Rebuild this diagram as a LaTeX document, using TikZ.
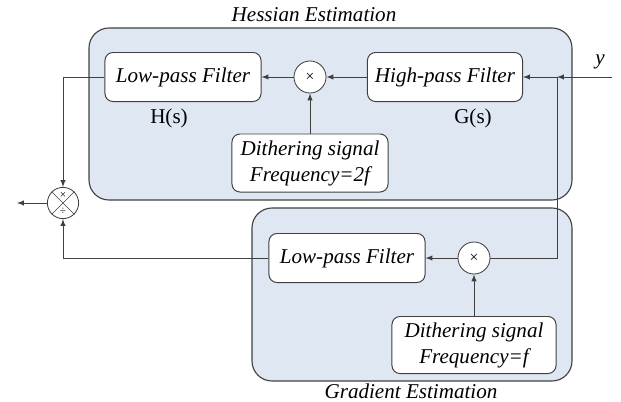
\documentclass[tikz,border=0pt]{standalone}
\usepackage{fontspec}
\setmainfont{Liberation Serif}
\usepackage{tikz}
\usetikzlibrary{arrows,positioning,calc}
\definecolor{panelblue}{HTML}{DFE8F2}
\definecolor{linegray}{HTML}{404040}

\tikzset{
  panel/.style={draw=linegray, fill=panelblue, line width=0.8pt, rounded corners=0.5cm},
  block/.style={draw=linegray, fill=white, line width=0.7pt, rounded corners=0.2cm,
    font=\fontsize{15}{18.5}\selectfont\itshape, align=center, inner sep=0pt},
  mult/.style={draw=linegray, fill=white, circle, line width=0.6pt, minimum size=0.8cm, inner sep=0pt},
  wire/.style={draw=linegray, line width=0.7pt},
  sig/.style={wire, -latex},
}

\begin{document}
\begin{tikzpicture}[x=0.025cm, y=-0.025cm, font=\fontsize{15}{17}\selectfont]
\useasboundingbox (0,0) rectangle (621,402);
% estimation panels
\draw[panel] (89,28) rectangle (572,200);
\draw[panel] (252,208) rectangle (572,381);
\node at (314,15) {\itshape Hessian Estimation};
\node at (411,391) {\itshape Gradient Estimation};

% Hessian loop
\node[block, minimum width=3.9cm, minimum height=1.225cm] (lpf1) at (183,77) {Low-pass Filter};
\node[mult] (mul1) at (310,77) {\fontsize{11}{11}\selectfont ×};
\node[block, minimum width=3.875cm, minimum height=1.225cm] (hpf) at (445,77) {High-pass Filter};
\node[block, minimum width=3.9cm, minimum height=1.45cm] (dith1) at (310,163) {Dithering signal\\Frequency=2\textit{f}};
\node (hs) at (169,118) {H(s)};
\node (gs) at (473,118) {G(s)};

% gradient loop
\node[block, minimum width=3.9cm, minimum height=1.225cm] (lpf2) at (347,258) {Low-pass Filter};
\node[mult] (mul2) at (474,258) {\fontsize{11}{11}\selectfont ×};
\node[block, minimum width=4.1cm, minimum height=1.425cm] (dith2) at (474,345) {Dithering signal\\Frequency=\textit{f}};

% divider
\node[mult, minimum size=0.78cm] (div) at (63,203) {};
\draw[linegray, line width=0.5pt] (div.45) -- (div.225) (div.135) -- (div.-45);
\node[font=\fontsize{8}{8}\selectfont, inner sep=0pt] at ($(div.center)+(0,-8)$) {×};
\node[font=\fontsize{8}{8}\selectfont, inner sep=0pt] at ($(div.center)+(0,8)$) {÷};

% signal in and out
\coordinate (yin) at (612,77);
\coordinate (split) at (557,77);
\coordinate (out) at (17,203);
\node (ylab) at (600,62) {\textit{y}};

\draw[sig] (yin) -- (split);
\draw[sig] (split) -- (hpf.east);
\draw[sig] (hpf.west) -- (mul1.east);
\draw[sig] (dith1.north) -- (mul1.south);
\draw[sig] (mul1.west) -- (lpf1.east);
\draw[sig] (lpf1.west) -| (div.north);
\draw[wire] (split) |- (mul2.east);
\draw[sig] (dith2.north) -- (mul2.south);
\draw[sig] (mul2.west) -- (lpf2.east);
\draw[sig] (lpf2.west) -| (div.south);
\draw[sig] (div.west) -- (out);
\end{tikzpicture}
\end{document}
